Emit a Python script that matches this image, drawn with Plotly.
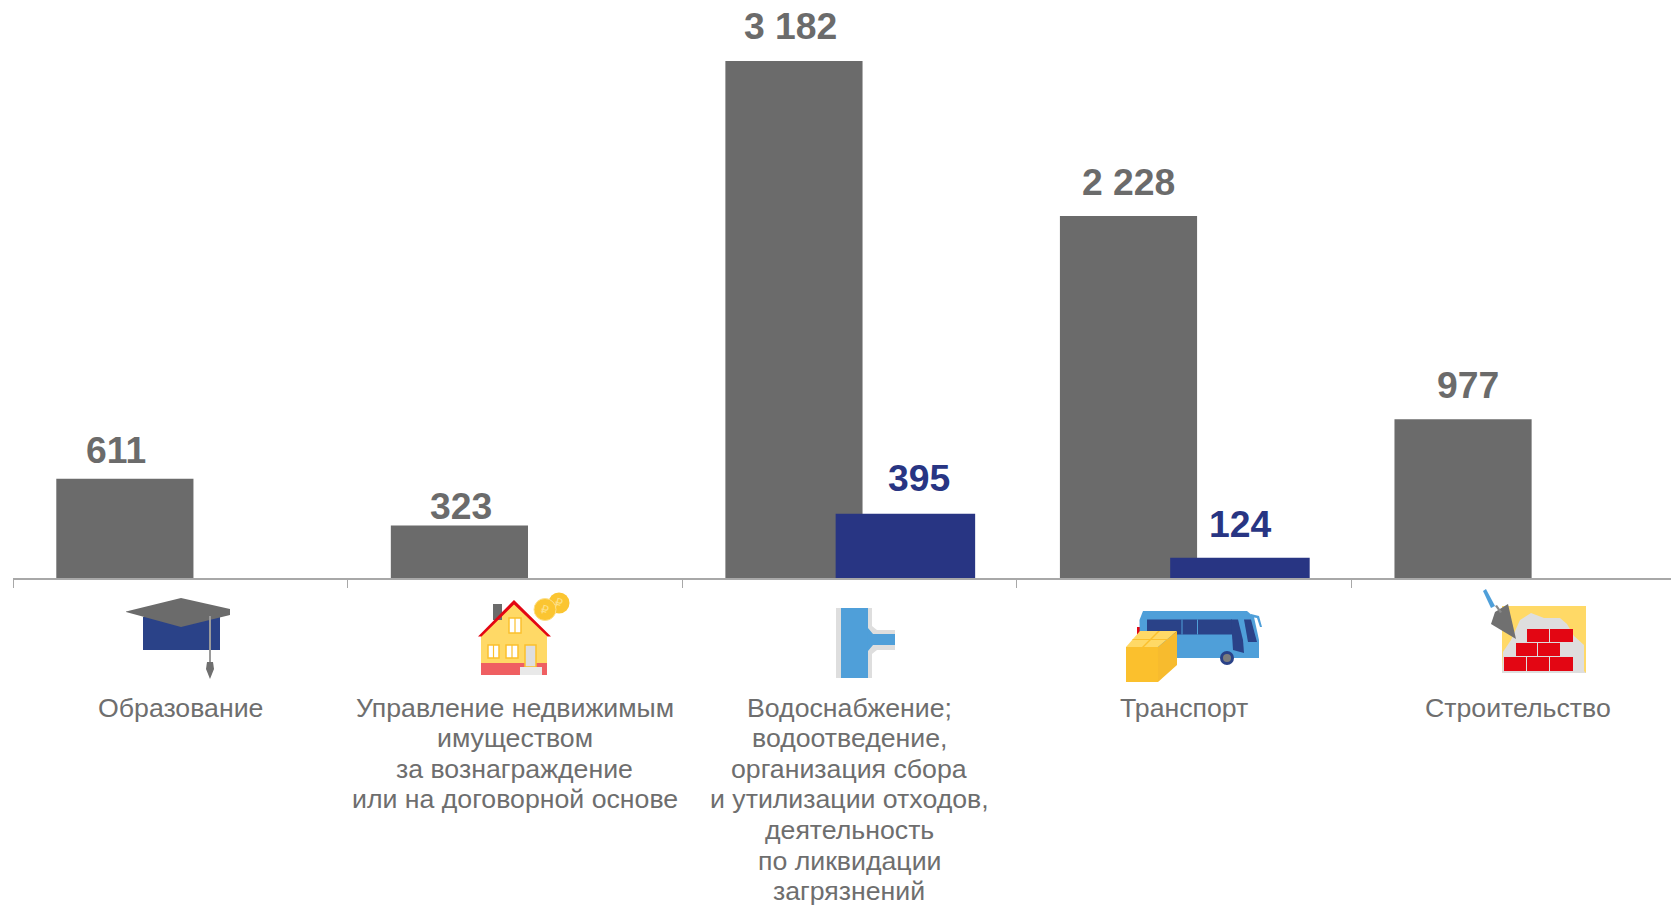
import plotly.graph_objects as go

categories = [
    "Образование",
    "Управление недвижимым<br>имуществом<br>за вознаграждение<br>или на договорной основе",
    "Водоснабжение;<br>водоотведение,<br>организация сбора<br>и утилизации отходов,<br>деятельность<br>по ликвидации<br>загрязнений",
    "Транспорт",
    "Строительство",
]
gray_values = [611, 323, 3182, 2228, 977]
blue_values = [None, None, 395, 124, None]
gray_labels = ["611", "323", "3 182", "2 228", "977"]
blue_labels = [None, None, "395", "124", None]

W, H = 1671, 906
ML, MB = 13, 906 - 578
PH = H - MB
GRAY, BLUE, TXT, AXIS = "#6b6b6b", "#283583", "#6e6e6e", "#a8a8a8"
YEL, AMB, RED, SKY, NAVY, LG = "#ffd966", "#fbc02d", "#e30613", "#4f9fd9", "#2a4288", "#dedede"


def pt(x, y):
    return (x - ML) / (W - ML), 1 - y / PH


def poly(points, fill, line=None, lw=0):
    p = [pt(*q) for q in points]
    d = "M" + " L".join(f"{a:.5f},{b:.5f}" for a, b in p) + " Z"
    return dict(type="path", xref="paper", yref="paper", path=d, fillcolor=fill, layer="above",
                line=dict(color=line or fill, width=lw))


def rect(x0, y0, x1, y1, fill, line=None, lw=0):
    return poly([(x0, y0), (x1, y0), (x1, y1), (x0, y1)], fill, line, lw)


def circ(cx, cy, r, fill, line=None, lw=0):
    a, b = pt(cx - r, cy - r)
    c, d = pt(cx + r, cy + r)
    return dict(type="circle", xref="paper", yref="paper", x0=a, y0=b, x1=c, y1=d, fillcolor=fill,
                layer="above", line=dict(color=line or fill, width=lw))


def window(x0, y0, x1, y1):
    xm = (x0 + x1) / 2
    return [rect(x0, y0, x1, y1, "#ffffff", AMB, 1.5), rect(xm - 0.6, y0, xm + 0.6, y1, AMB)]


shapes = [
    # cap
    rect(143, 617, 220, 650, NAVY),
    poly([(126, 611.5), (181, 598), (230, 609), (230, 615), (181, 627), (126, 612)], GRAY),
    rect(209, 616, 211, 662, "#9a9a9a"),
    poly([(207, 662), (213, 662), (214, 669), (210, 679), (206, 669)], "#6f6f6f"),
    # house
    rect(481, 636, 547, 663, YEL),
    rect(481, 663, 547, 675, "#ef5f62"),
    poly([(480, 636), (514, 602), (549, 636)], YEL),
    rect(493, 604, 502, 620, GRAY),
    poly([(478, 636.5), (514, 600), (551, 636.5), (547.5, 636.5), (514, 604.5), (481.5, 636.5)], RED),
    *window(509, 618, 521, 633),
    *window(488, 645, 499, 658),
    *window(506, 645, 518, 658),
    rect(525, 645, 536, 667, LG, AMB, 1.5),
    rect(520, 667, 542, 675, "#e9e9e9"),
    circ(559, 603, 10.5, "#fbc531"),
    circ(545, 609.5, 11, "#fbc531", "#fde08a", 1),
    # pipe
    rect(836, 608, 872, 678, LG),
    poly([(872, 626), (877, 630), (895, 630), (895, 650), (877, 650), (872, 654)], LG),
    rect(841, 608, 868, 678, SKY),
    poly([(868, 628), (873, 634), (895, 634), (895, 645), (873, 645), (868, 651)], SKY),
    # bus
    rect(1137, 627, 1141, 640, RED),
    poly([(1139.5, 620), (1143, 611), (1247, 611), (1254, 617), (1259, 640), (1259, 658), (1140, 658)], SKY),
    rect(1147, 619.5, 1232, 634.5, NAVY),
    rect(1181.5, 619.5, 1182.5, 634.5, SKY),
    rect(1197, 619.5, 1198, 634.5, SKY),
    poly([(1231, 619.5), (1238, 619.5), (1243, 640), (1244, 653), (1233, 650)], NAVY),
    poly([(1244, 619.5), (1251, 619.5), (1257, 642), (1248, 642)], NAVY),
    poly([(1251, 614), (1259, 616), (1262, 627), (1260, 627), (1257, 618), (1251, 617)], SKY),
    circ(1227, 658, 7, NAVY),
    circ(1227, 658, 4, "#7c7c7c"),
    poly([(1126, 647), (1140, 631), (1177, 631), (1158, 647)], YEL),
    poly([(1126, 647), (1158, 647), (1158, 682), (1126, 682)], AMB),
    poly([(1158, 647), (1177, 631), (1177, 665), (1158, 682)], "#f7bb2e"),
    poly([(1142, 647), (1144, 647), (1160, 631), (1158, 631)], AMB),
    poly([(1133, 639), (1168, 639), (1167, 640), (1132, 640)], AMB),
    # bricks
    rect(1502, 606, 1586, 673, YEL),
    poly([(1502, 673), (1503, 652), (1511, 640), (1520, 620), (1531, 613), (1544, 618), (1560, 618), (1567, 624),
          (1574, 636), (1584, 645), (1584, 671), (1586, 673)], LG),
    rect(1527, 629, 1549, 642, RED), rect(1550, 629, 1573, 642, RED),
    rect(1516, 643, 1537, 656, RED), rect(1538, 643, 1560, 656, RED),
    rect(1504, 657, 1526, 671, RED), rect(1527, 657, 1549, 671, RED), rect(1550, 657, 1573, 671, RED),
    poly([(1508, 604), (1516, 639), (1491, 624), (1495, 612)], "#707070"),
    poly([(1483, 591), (1486, 589), (1495, 606), (1491, 608)], SKY),
    poly([(1495, 606), (1497, 605), (1502, 612), (1500, 613)], "#8a8a8a"),
]

fig = go.Figure()
fig.add_bar(x=categories, y=gray_values, width=0.41, offset=-0.3706, marker=dict(color=GRAY, line_width=0),
            hoverinfo="skip")
fig.add_bar(x=categories, y=blue_values, width=0.417, offset=-0.041, marker=dict(color=BLUE, line_width=0),
            hoverinfo="skip")

annotations = []
gray_xshift = [-9, 2, -3, 0, 5.5]
gray_yshift = [6, -3, 12, 11, 11]
blue_xshift = [0, 0, 13, -0.5, 0]
blue_yshift = [0, 0, 13, 11, 0]
LABEL_FONT = dict(family="Liberation Sans", size=37.3, weight="bold")
for i, (v, s) in enumerate(zip(gray_values, gray_labels)):
    annotations.append(dict(x=i - 0.166, y=v, xref="x", yref="y", text=s, showarrow=False, yanchor="bottom",
                            xshift=gray_xshift[i], yshift=gray_yshift[i], font=dict(LABEL_FONT, color=GRAY)))
for i, (v, s) in enumerate(zip(blue_values, blue_labels)):
    if v is not None:
        annotations.append(dict(x=i + 0.168, y=v, xref="x", yref="y", text=s, showarrow=False, yanchor="bottom",
                                xshift=blue_xshift[i], yshift=blue_yshift[i], font=dict(LABEL_FONT, color=BLUE)))
# category captions, one line at a time so the line pitch can be tighter than the browser default
for i, cat in enumerate(categories):
    for k, line in enumerate(cat.split("<br>")):
        annotations.append(dict(x=i, y=0, xref="x", yref="y", text=line, showarrow=False, xanchor="center",
                                yanchor="middle", yshift=-129.5 - k * 30.6,
                                font=dict(family="Liberation Sans", size=26.7, color=TXT)))
for cx, cy in [(559, 603), (545, 609.5)]:
    a, b = pt(cx, cy)
    annotations.append(dict(x=a, y=b, xref="paper", yref="paper", text="₽", showarrow=False, textangle=15,
                            xanchor="center", yanchor="middle",
                            font=dict(family="DejaVu Sans", size=12, color="#fde08a")))

fig.update_layout(
    width=W, height=H, autosize=False, showlegend=False, barmode="overlay",
    paper_bgcolor="white", plot_bgcolor="white",
    margin=dict(l=ML, r=0, t=0, b=MB, pad=0),
    font=dict(family="Liberation Sans", color=TXT, size=24),
    shapes=shapes, annotations=annotations,
    xaxis=dict(type="category", categoryorder="array", categoryarray=categories, range=[-0.5, 4.456],
               showline=True, linecolor=AXIS, linewidth=1.5, ticks="outside", tickson="boundaries", ticklen=8,
               tickwidth=1, tickcolor=AXIS, showgrid=False, zeroline=False, showticklabels=False,
               automargin=False),
    yaxis=dict(range=[0, 578 / 0.1625], visible=False, showgrid=False, zeroline=False, automargin=False),
)
fig.write_html("out.html", config=dict(displayModeBar=False),
               post_script="document.body.style.margin='0';document.body.style.overflow='hidden';")
